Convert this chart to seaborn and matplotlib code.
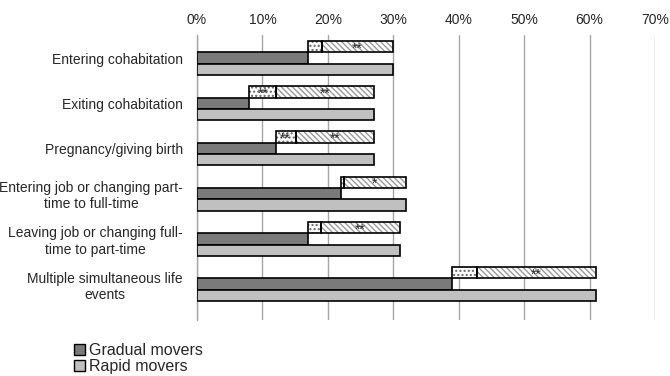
import matplotlib
matplotlib.use("Agg")
import matplotlib.pyplot as plt
import seaborn as sns
import pandas as pd
import numpy as np
from matplotlib.ticker import FuncFormatter
from matplotlib.patches import Patch

categories = [
    "Entering cohabitation",
    "Exiting cohabitation",
    "Pregnancy/giving birth",
    "Entering job or changing part-\ntime to full-time",
    "Leaving job or changing full-\ntime to part-time",
    "Multiple simultaneous life\nevents",
]
gradual = [17, 8, 12, 22, 17, 39]
rapid = [30, 27, 27, 32, 31, 61]
comp_dotted = [2.1, 4.1, 3.1, 0.4, 2.0, 3.8]
comp_hatched = [10.9, 14.9, 11.9, 9.6, 12.0, 18.2]
sig_dotted = ["", "**", "**", "", "", ""]
sig_hatched = ["**", "**", "**", "*", "**", "**"]
xticks = [0, 10, 20, 30, 40, 50, 60, 70]

sns.set_style("white")
plt.rcParams["font.family"] = ["Liberation Sans", "DejaVu Sans"]
plt.rcParams["hatch.linewidth"] = 1.0

fig = plt.figure(figsize=(6.7, 3.76), dpi=100)
ax = fig.add_axes([197 / 670, 1 - 320 / 376, (655 - 197) / 670, (320 - 35) / 376])

df = pd.DataFrame({
    "category": categories * 2,
    "value": gradual + rapid,
    "group": ["Gradual movers"] * len(categories) + ["Rapid movers"] * len(categories),
})
pal = {"Gradual movers": "#7a7a7a", "Rapid movers": "#c0c0c0"}
sns.barplot(data=df, y="category", x="value", hue="group", orient="h",
            width=0.5, palette=pal, edgecolor="black", linewidth=1.2,
            saturation=1, ax=ax, legend=False, zorder=3)

ypos = np.arange(len(categories)) - 0.375
h = 0.25
# dotted segment
ax.barh(ypos, comp_dotted, left=gradual, height=h, color="white",
        edgecolor="#666666", hatch="....", linewidth=0, zorder=3)
ax.barh(ypos, comp_dotted, left=gradual, height=h, fill=False,
        edgecolor="black", linewidth=1.2, zorder=4)
left2 = [g + d for g, d in zip(gradual, comp_dotted)]
ax.barh(ypos, comp_hatched, left=left2, height=h, color="white",
        edgecolor="#9a9a9a", hatch="\\\\\\\\\\\\", linewidth=0, zorder=3)
ax.barh(ypos, comp_hatched, left=left2, height=h, fill=False,
        edgecolor="black", linewidth=1.2, zorder=4)

for i in range(len(categories)):
    if sig_dotted[i]:
        ax.text(gradual[i] + comp_dotted[i] / 2, ypos[i] + 0.04, sig_dotted[i],
                ha="center", va="center", fontsize=10, zorder=5)
    if sig_hatched[i]:
        ax.text(left2[i] + comp_hatched[i] / 2, ypos[i] + 0.04, sig_hatched[i],
                ha="center", va="center", fontsize=10, zorder=5)

ax.set_xlim(0, 70)
ax.set_ylim(5.67, -0.634)
ax.set_xticks(xticks)
ax.xaxis.set_major_formatter(FuncFormatter(lambda v, p: f"{int(v)}%"))
ax.xaxis.tick_top()
ax.tick_params(axis="x", length=0, labelsize=10, pad=6)
ax.set_yticks(np.arange(len(categories)) - 0.125)
ax.set_yticklabels(categories, fontsize=10, multialignment="center")
ax.tick_params(axis="y", length=0, pad=10)
ax.set_xlabel("")
ax.set_ylabel("")
ax.grid(axis="x", color="#a6a6a6", linewidth=1.0, zorder=0)
ax.set_axisbelow(True)
for s in ["top", "right", "bottom"]:
    ax.spines[s].set_visible(False)
ax.spines["left"].set_color("#a6a6a6")
ax.spines["left"].set_linewidth(1.0)

handles = [Patch(facecolor=pal["Gradual movers"], edgecolor="black", linewidth=1.0),
           Patch(facecolor=pal["Rapid movers"], edgecolor="black", linewidth=1.0)]
fig.legend(handles, ["Gradual movers", "Rapid movers"], loc="upper left",
           bbox_to_anchor=(74 / 670, 1 - 343 / 376), frameon=False,
           fontsize=11.5, handlelength=0.7, handleheight=0.7,
           handletextpad=0.25, labelspacing=0.05, borderpad=0, borderaxespad=0)

fig.savefig("out.png", dpi=100)
